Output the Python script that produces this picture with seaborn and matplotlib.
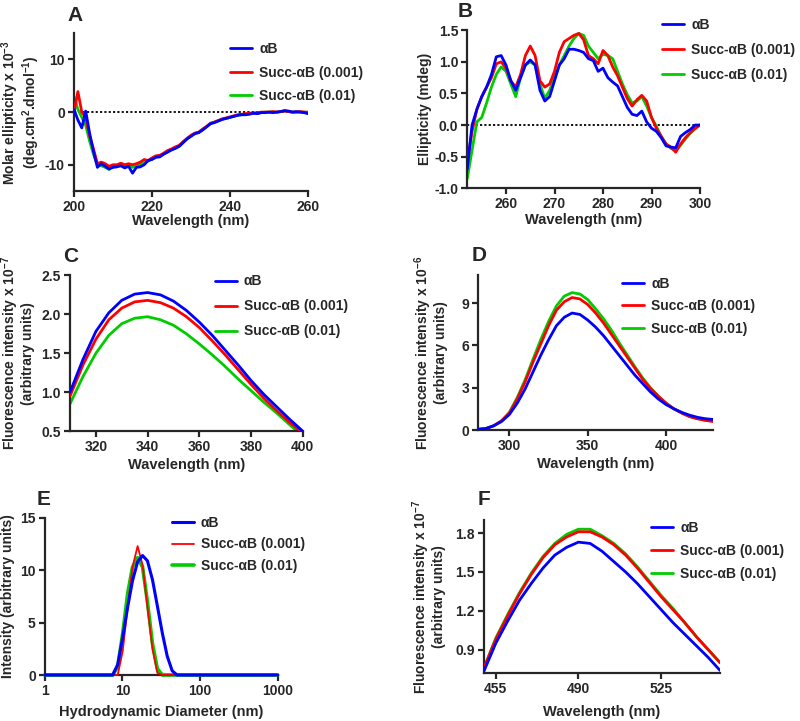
import matplotlib
matplotlib.use("Agg")
import matplotlib.pyplot as plt
from matplotlib.ticker import FixedLocator, FixedFormatter, NullLocator, FormatStrFormatter
import seaborn as sns

sns.set_style("ticks")
plt.rcParams.update({
    "font.family": ["Liberation Sans", "DejaVu Sans"],
    "font.weight": "bold",
    "axes.labelweight": "bold",
    "axes.unicode_minus": False,
    "mathtext.fontset": "custom",
    "mathtext.rm": "Liberation Sans:bold",
    "mathtext.bf": "Liberation Sans:bold",
    "mathtext.default": "bf",
})

labels = ["αB", "Succ-αB (0.001)", "Succ-αB (0.01)"]
colors = ["#0000ff", "#ff0000", "#00cc00"]

# A: far-UV CD (molar ellipticity x 10^-3)
a_wl = list(range(200, 261))
a_blue = [0.5, -1.5, -3.0, 0.2, -4.0, -7.5, -10.5, -9.8, -10.3, -10.8,
          -10.5, -10.4, -10.2, -10.6, -10.3, -11.6, -10.5, -10.4, -10.0, -9.2,
          -9.0, -8.6, -8.5, -8.0, -7.6, -7.2, -6.9, -6.5, -5.8, -5.1,
          -4.6, -4.1, -3.9, -3.4, -2.8, -2.2, -2.0, -1.7, -1.4, -1.2,
          -1.0, -0.8, -0.6, -0.5, -0.5, -0.4, -0.2, -0.3, -0.1, -0.1,
          0.0, -0.1, 0.0, 0.1, 0.3, 0.2, 0.0, 0.1, 0.0, -0.1, -0.3]
a_red = [0.0, 3.9, 0.0, -1.0, -4.5, -7.0, -9.8, -9.5, -9.8, -10.3,
         -10.0, -10.0, -9.7, -10.0, -9.8, -10.0, -9.8, -9.5, -9.0, -9.2,
         -8.7, -8.3, -8.2, -7.8, -7.3, -7.0, -6.6, -6.3, -5.6, -5.0,
         -4.4, -4.0, -3.8, -3.2, -2.7, -2.1, -1.9, -1.6, -1.3, -1.1,
         -0.9, -0.7, -0.5, -0.4, -0.3, -0.2, -0.2, -0.1, 0.0, 0.0,
         0.0, 0.1, 0.0, 0.1, 0.2, 0.1, 0.0, 0.0, 0.1, 0.0, 0.0]
a_green = [2.9, 0.5, -1.0, -2.5, -5.5, -8.0, -10.0, -10.2, -10.5, -10.9,
           -10.2, -10.3, -10.0, -10.3, -10.1, -10.5, -10.2, -10.0, -9.6, -9.3,
           -8.9, -8.5, -8.3, -7.9, -7.5, -7.1, -6.8, -6.4, -5.7, -5.0,
           -4.5, -4.0, -3.8, -3.3, -2.8, -2.2, -1.9, -1.6, -1.3, -1.2,
           -1.0, -0.8, -0.6, -0.5, -0.4, -0.3, -0.2, -0.2, -0.1, 0.0,
           0.0, 0.0, 0.0, 0.1, 0.2, 0.1, 0.0, 0.0, 0.0, 0.0, -0.1]

# B: near-UV CD (mdeg)
b_wl = list(range(252, 301))
b_blue = [-0.7, 0.0, 0.25, 0.45, 0.6, 0.8, 1.08, 1.1, 0.95, 0.7,
          0.55, 0.75, 0.95, 1.03, 0.95, 0.55, 0.38, 0.45, 0.7, 0.95,
          1.05, 1.2, 1.2, 1.18, 1.15, 1.05, 1.02, 0.85, 0.9, 0.75,
          0.68, 0.62, 0.45, 0.28, 0.17, 0.15, 0.22, 0.05, -0.05, -0.1,
          -0.2, -0.33, -0.35, -0.36, -0.18, -0.12, -0.07, 0.0, 0.0]
b_red = [-0.6, -0.1, 0.25, 0.45, 0.6, 0.75, 0.97, 1.0, 0.9, 0.7,
         0.6, 0.8, 1.1, 1.25, 1.1, 0.7, 0.6, 0.65, 0.85, 1.15,
         1.32, 1.37, 1.42, 1.45, 1.35, 1.1, 1.05, 0.97, 1.18, 1.1,
         0.92, 0.78, 0.6, 0.42, 0.3, 0.4, 0.47, 0.38, 0.12, -0.05,
         -0.18, -0.3, -0.35, -0.43, -0.3, -0.2, -0.12, -0.05, 0.0]
b_green = [-0.85, -0.4, 0.05, 0.12, 0.35, 0.6, 0.8, 0.92, 0.85, 0.65,
           0.45, 0.75, 0.95, 1.0, 0.95, 0.65, 0.42, 0.55, 0.75, 0.95,
           1.1, 1.25, 1.37, 1.45, 1.42, 1.25, 1.15, 1.05, 1.12, 1.1,
           1.05, 0.85, 0.65, 0.48, 0.35, 0.38, 0.45, 0.3, 0.12, -0.02,
           -0.18, -0.3, -0.37, -0.4, -0.32, -0.22, -0.13, -0.06, 0.0]

# C: Trp fluorescence (x 10^-7)
c_wl = list(range(310, 401, 5))
c_blue = [1.0, 1.42, 1.78, 2.02, 2.18, 2.26, 2.28, 2.25, 2.17, 2.05,
          1.9, 1.73, 1.54, 1.35, 1.15, 0.97, 0.81, 0.65, 0.5]
c_red = [0.95, 1.35, 1.68, 1.93, 2.08, 2.16, 2.18, 2.15, 2.08, 1.97,
         1.83, 1.66, 1.48, 1.29, 1.1, 0.92, 0.76, 0.61, 0.48]
c_green = [0.85, 1.2, 1.5, 1.73, 1.88, 1.95, 1.97, 1.93, 1.86, 1.75,
           1.62, 1.48, 1.33, 1.17, 1.02, 0.87, 0.73, 0.58, 0.44]

# D: fluorescence (x 10^-6)
d_wl = list(range(280, 431, 5))
d_blue = [0.05, 0.1, 0.3, 0.6, 1.1, 1.9, 2.9, 4.1, 5.3, 6.4, 7.4, 8.0, 8.3, 8.2, 7.8, 7.3,
          6.7, 6.0, 5.3, 4.6, 3.9, 3.3, 2.7, 2.2, 1.8, 1.5, 1.25, 1.05, 0.9, 0.8, 0.75]
d_red = [0.05, 0.1, 0.3, 0.65, 1.2, 2.2, 3.4, 4.8, 6.1, 7.4, 8.5, 9.1, 9.4, 9.3, 8.9, 8.3,
         7.6, 6.8, 6.0, 5.2, 4.4, 3.6, 2.95, 2.4, 1.9, 1.5, 1.2, 0.95, 0.8, 0.68, 0.6]
d_green = [0.05, 0.1, 0.3, 0.65, 1.25, 2.3, 3.55, 5.0, 6.4, 7.7, 8.8, 9.5, 9.75, 9.65, 9.25, 8.6,
           7.9, 7.1, 6.2, 5.35, 4.5, 3.7, 3.0, 2.4, 1.9, 1.5, 1.2, 0.95, 0.8, 0.7, 0.65]

# E: DLS size distribution
e_size = [1, 7.5, 8.7, 10.1, 11.7, 13.5, 15.7, 18.2, 21.0, 24.4, 28.2, 32.7, 37.8, 43.8, 50.7, 1000]
e_blue = [0, 0, 1.0, 3.6, 6.5, 9.0, 10.8, 11.4, 10.9, 9.1, 6.6, 4.0, 1.8, 0.4, 0, 0]
e_red = [0, 0, 0, 2.3, 6.5, 10.3, 12.3, 10.5, 6.5, 2.5, 0.2, 0, 0, 0, 0, 0]
e_green = [0, 0, 0.8, 4.0, 7.8, 10.3, 11.2, 10.3, 7.0, 3.0, 0.6, 0, 0, 0, 0, 0]

# F: fluorescence (x 10^-7)
f_wl = list(range(450, 551, 5))
f_blue = [0.735, 0.95, 1.12, 1.28, 1.41, 1.53, 1.63, 1.69, 1.73, 1.72, 1.66,
          1.58, 1.5, 1.41, 1.31, 1.21, 1.11, 1.02, 0.93, 0.84, 0.74]
f_red = [0.76, 0.98, 1.16, 1.33, 1.48, 1.61, 1.71, 1.77, 1.81, 1.81, 1.77,
         1.71, 1.63, 1.53, 1.42, 1.31, 1.21, 1.11, 1.0, 0.9, 0.8]
f_green = [0.76, 0.99, 1.17, 1.34, 1.49, 1.62, 1.72, 1.79, 1.83, 1.83, 1.78,
           1.72, 1.64, 1.54, 1.43, 1.32, 1.22, 1.11, 1.0, 0.9, 0.8]


def draw(ax, x, series, widths=(2.0, 2.0, 2.0), zorders=(4, 3, 2), clip=True):
    for y, lab, col, lw, z in zip(series, labels, colors, widths, zorders):
        sns.lineplot(x=x, y=y, color=col, lw=lw, label=lab, ax=ax, zorder=z, clip_on=clip)


def style(ax, leg_xy, spacing, xlabel, ylabel, xlab_y, ylab_x):
    sns.despine(ax=ax)
    for s in ["left", "bottom"]:
        ax.spines[s].set_linewidth(1.6)
    ax.tick_params(width=1.6, length=4, labelsize=10, pad=2.5)
    ax.set_xlabel(xlabel, fontsize=10.5)
    ax.set_ylabel(ylabel, fontsize=10, linespacing=1.0)
    ax.xaxis.set_label_coords(0.5, xlab_y)
    ax.yaxis.set_label_coords(ylab_x, 0.5)
    ax.legend(loc="upper left", bbox_to_anchor=leg_xy, frameon=False, borderpad=0,
              borderaxespad=0, handlelength=1.6, handletextpad=0.5, labelspacing=spacing,
              prop={"weight": "bold", "size": 10})


fig = plt.figure(figsize=(8, 7.21), dpi=100)
axA = fig.add_axes([0.0925, 0.735, 0.2925, 0.219])
axB = fig.add_axes([0.584, 0.739, 0.291, 0.219])
axC = fig.add_axes([0.0875, 0.402, 0.291, 0.216])
axD = fig.add_axes([0.5975, 0.4036, 0.294, 0.215])
axE = fig.add_axes([0.056, 0.0638, 0.291, 0.218])
axF = fig.add_axes([0.605, 0.0666, 0.295, 0.212])

# A
axA.axhline(0, color="black", ls=(0, (1.2, 1.2)), lw=1.3, zorder=1)
draw(axA, a_wl, [a_blue, a_red, a_green])
axA.set_xlim(200, 260)
axA.set_ylim(-15, 15)
axA.set_xticks([200, 220, 240, 260])
axA.set_yticks([-10, 0, 10])
style(axA, (0.667, 0.943), 0.68, "Wavelength (nm)",
      "Molar ellipticity x 10$^{-3}$\n(deg.cm$^{2}$.dmol$^{-1}$)", -0.145, -0.135)

# B
axB.axhline(0, color="black", ls=(0, (1.2, 1.2)), lw=1.3, zorder=1)
draw(axB, b_wl, [b_blue, b_red, b_green])
axB.set_xlim(252, 300)
axB.set_ylim(-1.0, 1.5)
axB.set_xticks([260, 270, 280, 290, 300])
axB.set_yticks([-1.0, -0.5, 0.0, 0.5, 1.0, 1.5])
axB.yaxis.set_major_formatter(FormatStrFormatter("%.1f"))
style(axB, (0.837, 1.076), 0.77, "Wavelength (nm)", "Ellipticity (mdeg)", -0.158, -0.15)

# C
draw(axC, c_wl, [c_blue, c_red, c_green])
axC.set_xlim(310, 400)
axC.set_ylim(0.5, 2.5)
axC.set_xticks([320, 340, 360, 380, 400])
axC.set_yticks([0.5, 1.0, 1.5, 2.0, 2.5])
axC.yaxis.set_major_formatter(FormatStrFormatter("%.1f"))
style(axC, (0.622, 1.006), 0.79, "Wavelength (nm)",
      "Fluorescence intensity x 10$^{-7}$\n(arbitrary units)", -0.172, -0.15)

# D
draw(axD, d_wl, [d_blue, d_red, d_green])
axD.set_xlim(280, 430)
axD.set_ylim(0, 11)
axD.set_xticks([300, 350, 400])
axD.set_yticks([0, 3, 6, 9])
style(axD, (0.613, 0.99), 0.62, "Wavelength (nm)",
      "Fluorescence intensity x 10$^{-6}$\n(arbitrary units)", -0.176, -0.128)

# E
draw(axE, e_size, [e_blue, e_red, e_green], widths=(2.2, 1.3, 2.6), clip=False)
axE.set_xscale("log")
axE.set_xlim(1, 1000)
axE.set_ylim(0, 15)
axE.xaxis.set_major_locator(FixedLocator([1, 10, 100, 1000]))
axE.xaxis.set_major_formatter(FixedFormatter(["1", "10", "100", "1000"]))
axE.xaxis.set_minor_locator(NullLocator())
axE.set_yticks([0, 5, 10, 15])
style(axE, (0.545, 1.013), 0.55, "Hydrodynamic Diameter (nm)",
      "Intensity (arbitrary units)", -0.19, -0.129)

# F
draw(axF, f_wl, [f_blue, f_red, f_green])
axF.set_xlim(450, 550)
axF.set_ylim(0.72, 1.9)
axF.set_xticks([455, 490, 525])
axF.set_yticks([0.9, 1.2, 1.5, 1.8])
axF.yaxis.set_major_formatter(FormatStrFormatter("%.1f"))
style(axF, (0.708, 0.993), 0.63, "Wavelength (nm)",
      "Fluorescence intensity x 10$^{-7}$\n(arbitrary units)", -0.209, -0.16)

for lab, x, y in [("A", 0.084, 0.971), ("B", 0.5725, 0.976), ("C", 0.079, 0.637),
                  ("D", 0.59, 0.638), ("E", 0.046, 0.2996), ("F", 0.5975, 0.2996)]:
    fig.text(x, y, lab, fontsize=15, fontweight="bold", va="baseline", ha="left")

fig.savefig("out.png", dpi=100)
